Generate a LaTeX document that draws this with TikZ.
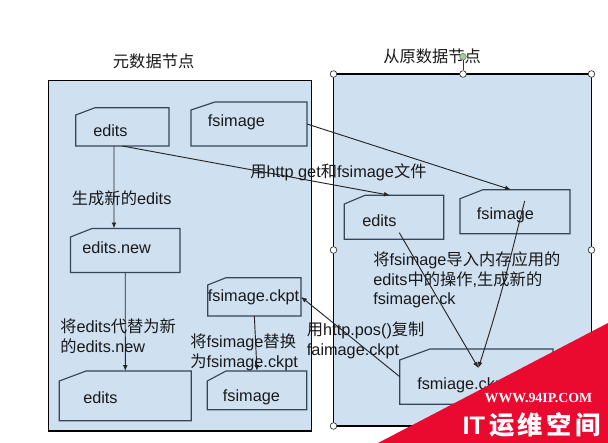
\documentclass[tikz,border=0pt]{standalone}
\usepackage{fontspec}
\setmainfont{Liberation Sans}
\newfontfamily\cjk{Noto Sans CJK SC}
\usetikzlibrary{arrows.meta}
\newcommand{\zh}[1]{{\cjk #1}}
\def\pxu{0.75pt}
\definecolor{panelfill}{HTML}{CFE0F1}
\definecolor{cardline}{HTML}{34465A}
\definecolor{banner}{HTML}{EA0A30}
\definecolor{rothandle}{HTML}{A9C4A0}
\tikzset{
  x=0.75pt,y=-0.75pt,
  panel/.style={draw=black,fill=panelfill,line width=0.8pt,inner sep=0pt,outer sep=0pt},
  cardbox/.style={inner sep=0pt,outer sep=0pt},
  cardedge/.style={draw=cardline,line width=0.85pt,line join=miter},
  lbl/.style={anchor=west,inner sep=0pt,font=\fontsize{12.2pt}{14.6pt}\selectfont,align=left,text=black!90},
  conn/.style={draw=black!85,line width=0.7pt,-{Latex[length=4.5pt,width=3.6pt]}},
  handle/.style={circle,draw=black!80,fill=white,line width=0.5pt,minimum size=5pt,inner sep=0pt},
}
\newcommand{\card}[7]{%
  \node[cardbox,minimum width={(#4-#2)*\pxu},minimum height={(#5-#3)*\pxu}] (#1) at ({(#2+#4)/2},{(#3+#5)/2}) {};
  \draw[cardedge] (#2,#7) -- (#6,#3) -- (#4,#3) -- (#4,#5) -- (#2,#5) -- cycle;
}
\begin{document}
\begin{tikzpicture}
\useasboundingbox (0,0) rectangle (608,443);
\fill[white] (0,0) rectangle (608,443);
% panels
\node[panel,minimum width={263*\pxu},minimum height={350.5*\pxu}] (left) at (180,255.75) {};
\node[panel,minimum width={258*\pxu},minimum height={352*\pxu}] (right) at (462.5,250) {};
% cards
\card{editsA}{75.7}{107.7}{169}{146}{95}{115}
\card{fsimageA}{191}{102}{307}{146}{215}{110}
\card{editsNew}{70.5}{228.5}{180}{272.5}{92}{237}
\card{ckptL}{207.7}{277.7}{301}{316}{226}{285}
\card{editsB}{59.3}{371}{191.3}{420.7}{86}{381}
\card{fsimageB}{207.3}{371}{306.7}{409.7}{226}{381}
\card{editsR}{344.3}{195.3}{443.7}{239.3}{365}{204}
\card{fsimageR}{460}{189.7}{570}{233.7}{483}{198.7}
\card{ckptR}{399.7}{349}{553}{404.3}{430}{360}
% connectors
\draw[conn] ([xshift=-8.35*\pxu]editsA.south) -- ([xshift=-11.25*\pxu]editsNew.north);
\draw[conn] (editsNew.south) -- (editsB.north);
\draw[conn] (ckptL.south) -- (fsimageB.north);
\draw[conn] (editsA.south) -- ([xshift=-4*\pxu]editsR.north);
\draw[conn] (fsimageA.east) -- ([xshift=-4*\pxu]fsimageR.north);
\draw[conn] (ckptR.west) -- (ckptL.east);
\draw[conn] ([xshift=5.3*\pxu,yshift=6.6*\pxu]editsR.south) -- ([xshift=2*\pxu,yshift=-19*\pxu]ckptR.north);
\draw[conn] ([xshift=9.7*\pxu,yshift=-11.3*\pxu]fsimageR.north) .. controls (512,250) and (505,285) .. ([xshift=2*\pxu,yshift=-19*\pxu]ckptR.north);
% labels
\node[lbl] (t1) at (112.7,61.5) {\zh{元数据节点}};
\node[lbl] (t2) at (383,56.5) {\zh{从原数据节点}};
\node[lbl] (t3) at (93,131) {edits};
\node[lbl] (t4) at (207.7,122.5) {fsimage};
\node[lbl] (t5) at (71.7,198) {\zh{生成新的}edits};
\node[lbl] (t6) at (82,247.5) {edits.new};
\node[lbl] (t7) at (207.7,297.5) {fsimage.ckpt};
\node[lbl,font=\fontsize{12.2pt}{14.8pt}\selectfont] (t8) at (60,336.5) {\zh{将}edits\zh{代替为新}\\\zh{的}edits.new};
\node[lbl,font=\fontsize{12.2pt}{14.8pt}\selectfont] (t9) at (190,352) {\zh{将}fsimage\zh{替换}\\\zh{为}fsimage.ckpt};
\node[lbl] (t10) at (83,397.5) {edits};
\node[lbl] (t11) at (222.7,397.5) {fsimage};
\node[lbl] (t12) at (250,172) {\zh{用}http get\zh{和}fsimage\zh{文件}};
\node[lbl] (t13) at (362,220.6) {edits};
\node[lbl] (t14) at (476.7,215.5) {fsimage};
\node[lbl,font=\fontsize{12.2pt}{14.8pt}\selectfont] (t15) at (373,280) {\zh{将}fsimage\zh{导入内存应用的}\\edits\zh{中的操作},\zh{生成新的}\\fsimager.ck};
\node[lbl,font=\fontsize{12.2pt}{14.8pt}\selectfont] (t16) at (306.7,340) {\zh{用}http.pos()\zh{复制}\\faimage.ckpt};
\node[lbl] (t17) at (417,385.5) {fsmiage.ckpt};
% selection handles
\node[handle] (htm) at (463,74) {};
\node[handle,fill=rothandle,draw=rothandle!70!black] (hrot) at (463,56.7) {};
\draw[black!80,line width=0.6pt] (hrot) -- (htm);
\node[handle] (htl) at (333.5,74) {};
\node[handle] (htr) at (591.5,74) {};
\node[handle] (hml) at (333.5,250) {};
\node[handle] (hmr) at (591.5,250) {};
\node[handle] (hbl) at (333.5,426) {};
% watermark banner
\fill[banner] (378,443) -- (608,323) -- (608,443) -- cycle;
\node[anchor=center,inner sep=0pt,text=white,font=\fontspec{Liberation Serif}\bfseries\fontsize{10.4pt}{12pt}\selectfont] (w1) at (538.5,398) {WWW.94IP.COM};
\node[anchor=center,inner sep=0pt,text=white,font=\fontsize{19pt}{22pt}\selectfont\bfseries] (w2) at (531.5,425) {IT\hspace{3pt}\zh{运\hspace{2.5pt}维\hspace{2.5pt}空\hspace{2.5pt}间}};
\end{tikzpicture}
\end{document}
